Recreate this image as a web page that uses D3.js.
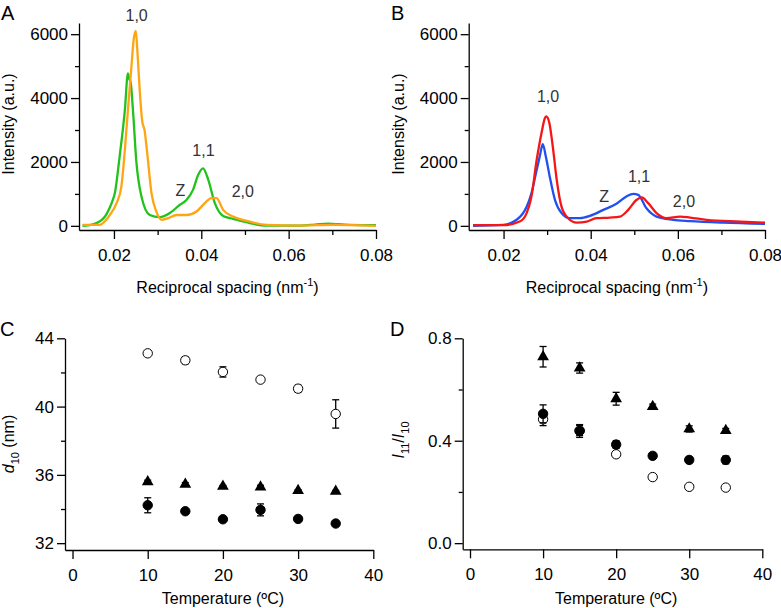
<!DOCTYPE html>
<html>
<head>
<meta charset="utf-8">
<script src="https://cdn.jsdelivr.net/npm/d3@7"></script>
<style>
  body { margin: 0; background: #fff; }
  svg { display: block; font-family: Arial, "Liberation Sans", sans-serif; }
  .axis path, .axis line { stroke: #000; stroke-width: 1.3; }
  .axis text { font-size: 17px; fill: #000; }
</style>
</head>
<body>
<svg id="fig" width="781" height="608"></svg>
<script>
// ---- data ----
// panel A: [q (nm^-1), intensity]
var greenCurve = [[0.0128,0],[0.0150,40],[0.0167,135],[0.0180,300],[0.0190,560],[0.0197,800],[0.0202,1020],[0.0213,2170],[0.0225,3625],[0.0232,4770],[0.0235,4600],[0.0238,4510],[0.0244,3530],[0.0251,2060],[0.0263,920],[0.0282,340],[0.0305,270],[0.0328,400],[0.0351,660],[0.0366,810],[0.0381,1125],[0.0393,1600],[0.0404,1800],[0.0416,1440],[0.0431,710],[0.0450,310],[0.0473,220],[0.0511,85],[0.055,10],[0.0626,10],[0.066,40],[0.069,70],[0.0702,60],[0.074,30],[0.08,20]];
var orangeCurve = [[0.0128,30],[0.0167,30],[0.0180,150],[0.0190,330],[0.0206,710],[0.0217,1230],[0.0225,2375],[0.0232,3625],[0.0240,4980],[0.0245,5810],[0.0250,6100],[0.0254,5400],[0.0259,4250],[0.0265,3250],[0.0270,3000],[0.0276,2300],[0.0286,1020],[0.0297,450],[0.0309,190],[0.0324,240],[0.0343,340],[0.0366,340],[0.0389,450],[0.0408,710],[0.0423,870],[0.0435,870],[0.0450,500],[0.0473,290],[0.0511,135],[0.055,30],[0.0626,10],[0.0702,30],[0.08,0]];
// panel B
var blueCurve = [[0.013,0],[0.0199,30],[0.023,190],[0.0253,600],[0.0264,1020],[0.0276,1750],[0.0283,2170],[0.0290,2560],[0.0297,2170],[0.0306,1540],[0.0318,810],[0.0333,400],[0.0352,240],[0.0375,240],[0.0398,310],[0.0429,500],[0.0459,690],[0.0482,920],[0.0498,1000],[0.0509,970],[0.0528,550],[0.0551,290],[0.0589,190],[0.0628,150],[0.0704,100],[0.08,60]];
var redCurve = [[0.013,20],[0.0199,20],[0.0237,135],[0.0253,400],[0.0264,920],[0.0276,2060],[0.0287,2900],[0.0295,3375],[0.0298,3430],[0.0305,3230],[0.0313,2480],[0.0322,1440],[0.0333,600],[0.0348,240],[0.0368,100],[0.0391,135],[0.0413,240],[0.0444,260],[0.0467,290],[0.0486,500],[0.0505,810],[0.0517,890],[0.0532,710],[0.0551,400],[0.0574,240],[0.0605,290],[0.0628,260],[0.0666,190],[0.0743,135],[0.08,100]];
var peakLabelsA = [["1,0",0.0252,6400],["1,1",0.0405,2200],["Z",0.0352,950],["2,0",0.0495,900]];
var peakLabelsB = [["1,0",0.0302,3880],["1,1",0.0511,1380],["Z",0.0431,760],["2,0",0.0614,580]];

// panels C and D
var temps = [10, 15, 20, 25, 30, 35];
var d10Open = [43.12, 42.71, 42.03, 41.58, 41.05, 39.57];
var d10OpenErr = [0.1, 0.2, 0.3, 0.15, 0.2, 0.83];
var d10Tri = [35.59, 35.45, 35.33, 35.29, 35.08, 35.04];
var d10TriErr = [0.1, 0.1, 0.05, 0.1, 0.05, 0.05];
var d10Fill = [34.22, 33.87, 33.40, 33.95, 33.42, 33.15];
var d10FillErr = [0.44, 0.1, 0.05, 0.35, 0.1, 0.05];
var ratioOpen = [0.484, 0.44, 0.347, 0.258, 0.220, 0.217];
var ratioOpenErr = [0.025, 0.02, 0.01, 0.01, 0.005, 0.005];
var ratioFill = [0.505, 0.438, 0.385, 0.341, 0.325, 0.325];
var ratioFillErr = [0.035, 0.025, 0.015, 0.01, 0.01, 0.015];
var ratioTri = [0.728, 0.684, 0.564, 0.533, 0.446, 0.440];
var ratioTriErr = [0.04, 0.02, 0.025, 0.01, 0.012, 0.008];

var qTicks = [0.02, 0.04, 0.06, 0.08];
var qMinor = [0.03, 0.05, 0.07];
var iTicks = [0, 2000, 4000, 6000];
var iMinor = [1000, 3000, 5000];
var tTicks = [0, 10, 20, 30, 40];
var dTicks = [32, 36, 40, 44];
var dMinor = [34, 38, 42];
var rTicks = [0, 0.4, 0.8];
var rMinor = [0.2, 0.6];

var svg = d3.select("#fig");
svg.append("rect").attr("width", 781).attr("height", 608).attr("fill", "#fff");

function drawAxes(x, y, xt, xm, yt, ym, xfmt, yfmt) {
  var x0 = x.range()[0], y0 = y.range()[0];
  svg.append("g").attr("class", "axis").attr("transform", "translate(0," + y0 + ")")
    .call(d3.axisBottom(x).tickValues(xt).tickFormat(xfmt).tickSizeInner(9).tickSizeOuter(0).tickPadding(10));
  if (xm.length) {
    svg.append("g").attr("class", "axis").attr("transform", "translate(0," + y0 + ")")
      .call(d3.axisBottom(x).tickValues(xm).tickFormat("").tickSizeInner(5).tickSizeOuter(0))
      .select(".domain").remove();
  }
  svg.append("g").attr("class", "axis").attr("transform", "translate(" + x0 + ",0)")
    .call(d3.axisLeft(y).tickValues(yt).tickFormat(yfmt).tickSizeInner(8).tickSizeOuter(0).tickPadding(3));
  svg.append("g").attr("class", "axis").attr("transform", "translate(" + x0 + ",0)")
    .call(d3.axisLeft(y).tickValues(ym).tickFormat("").tickSizeInner(4).tickSizeOuter(0))
    .select(".domain").remove();
}

function panelLetter(t, x, y) {
  svg.append("text").attr("x", x).attr("y", y).attr("font-size", 20).text(t);
}

// ---- panels A and B ----
function spectrum(xr, curves, labels, letter, lx) {
  var x = d3.scaleLinear().domain([0.012, 0.08]).range(xr);
  var y = d3.scaleLinear().domain([-130, 6350]).range([230, 23]);
  drawAxes(x, y, qTicks, qMinor, iTicks, iMinor, d3.format(".2f"), d3.format("d"));
  var line = d3.line().x(function (d) { return x(d[0]); }).y(function (d) { return y(d[1]); })
    .curve(d3.curveMonotoneX);
  curves.forEach(function (c) {
    svg.append("path").datum(c[0]).attr("d", line).attr("fill", "none")
      .attr("stroke", c[1]).attr("stroke-width", 2.3).attr("stroke-linejoin", "round");
  });
  labels.forEach(function (l) {
    svg.append("text").attr("x", x(l[1])).attr("y", y(l[2])).attr("text-anchor", "middle")
      .attr("font-size", 16).attr("fill", "#333").text(l[0]);
  });
  var cx = (xr[0] + xr[1]) / 2;
  var t = svg.append("text").attr("x", cx).attr("y", 293).attr("text-anchor", "middle").attr("font-size", 16);
  t.append("tspan").text("Reciprocal spacing (nm");
  t.append("tspan").attr("dy", -7).attr("font-size", 11).text("-1");
  t.append("tspan").attr("dy", 7).text(")");
  svg.append("text").attr("transform", "translate(" + (lx + 14) + ",124) rotate(-90)")
    .attr("text-anchor", "middle").attr("font-size", 16).text("Intensity (a.u.)");
  panelLetter(letter, lx + 1, 20);
}
spectrum([79, 376], [[greenCurve, "#22c21c"], [orangeCurve, "#ffa514"]], peakLabelsA, "A", 0);
spectrum([468.7, 765], [[blueCurve, "#2150f2"], [redCurve, "#f51616"]], peakLabelsB, "B", 390);

// ---- panels C and D ----
function scatter(x, y, vals, errs, kind) {
  var g = svg.append("g");
  temps.forEach(function (t, i) {
    var cx = x(t), top = y(vals[i] + errs[i]), bot = y(vals[i] - errs[i]);
    g.append("line").attr("x1", cx).attr("x2", cx).attr("y1", top).attr("y2", bot).attr("stroke", "#000").attr("stroke-width", 1.3);
    [top, bot].forEach(function (yy) {
      g.append("line").attr("x1", cx - 3.5).attr("x2", cx + 3.5).attr("y1", yy).attr("y2", yy).attr("stroke", "#000").attr("stroke-width", 1.3);
    });
  });
  temps.forEach(function (t, i) {
    var cx = x(t), cy = y(vals[i]);
    if (kind === "tri") {
      g.append("path").attr("d", d3.symbol().type(d3.symbolTriangle).size(60)())
        .attr("transform", "translate(" + cx + "," + cy + ")").attr("fill", "#000");
    } else {
      g.append("circle").attr("cx", cx).attr("cy", cy).attr("r", 4.7)
        .attr("fill", kind === "open" ? "#fff" : "#000").attr("stroke", "#000").attr("stroke-width", 1);
    }
  });
}

var xC = d3.scaleLinear().domain([-1, 40]).range([65, 373.3]);
var yC = d3.scaleLinear().domain([31.6, 44]).range([550, 338.3]);
drawAxes(xC, yC, tTicks, [], dTicks, dMinor, d3.format("d"), d3.format("d"));
scatter(xC, yC, d10Open, d10OpenErr, "open");
scatter(xC, yC, d10Tri, d10TriErr, "tri");
scatter(xC, yC, d10Fill, d10FillErr, "fill");

var xD = d3.scaleLinear().domain([-1, 40]).range([462.7, 762.3]);
var yD = d3.scaleLinear().domain([-0.024, 0.8]).range([549.3, 338.3]);
drawAxes(xD, yD, tTicks, [], rTicks, rMinor, d3.format("d"), d3.format(".1f"));
scatter(xD, yD, ratioOpen, ratioOpenErr, "open");
scatter(xD, yD, ratioFill, ratioFillErr, "fill");
scatter(xD, yD, ratioTri, ratioTriErr, "tri");

[xC, xD].forEach(function (x) {
  svg.append("text").attr("x", x(20)).attr("y", 604).attr("text-anchor", "middle")
    .attr("font-size", 16).text("Temperature (\u00baC)");
});

var tc = svg.append("text").attr("transform", "translate(14,444) rotate(-90)").attr("text-anchor", "middle").attr("font-size", 16);
tc.append("tspan").attr("font-style", "italic").text("d");
tc.append("tspan").attr("dy", 5).attr("font-size", 11).text("10");
tc.append("tspan").attr("dy", -5).text(" (nm)");

var td = svg.append("text").attr("transform", "translate(404,440) rotate(-90)").attr("text-anchor", "middle").attr("font-size", 16);
td.append("tspan").attr("font-style", "italic").text("I");
td.append("tspan").attr("dy", 5).attr("font-size", 11).text("11");
td.append("tspan").attr("dy", -5).text("/");
td.append("tspan").attr("font-style", "italic").text("I");
td.append("tspan").attr("dy", 5).attr("font-size", 11).text("10");

panelLetter("C", 0, 336);
panelLetter("D", 390, 336);
</script>
</body>
</html>
